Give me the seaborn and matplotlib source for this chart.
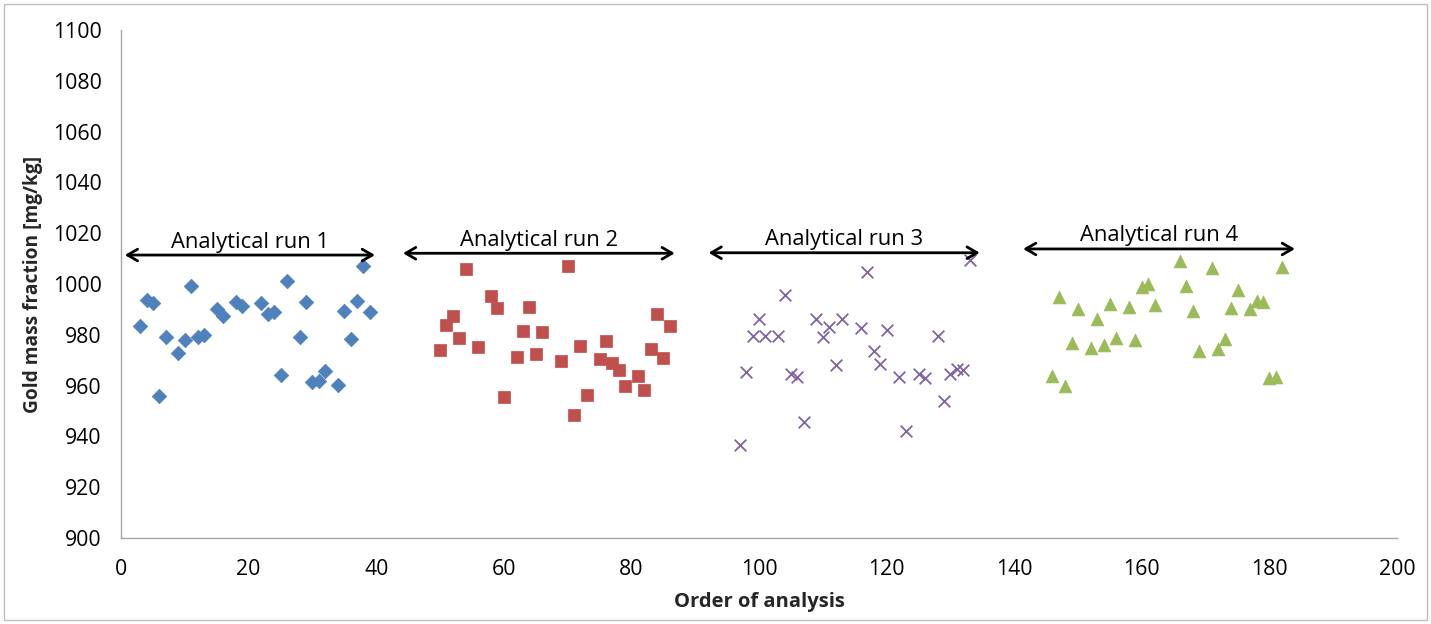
import matplotlib
matplotlib.use("Agg")
import matplotlib.pyplot as plt
from matplotlib.patches import Rectangle
import seaborn as sns
import pandas as pd

# ---- data ----
run1_x = [3, 4, 5, 6, 7, 9, 10, 11, 12, 13, 15, 16, 18, 19, 22, 23, 24, 25, 26, 28,
          29, 30, 31, 32, 34, 35, 36, 37, 38, 39]
run1_y = [983.3, 993.7, 992.6, 956.0, 979.3, 972.9, 977.9, 999.3, 979.3, 979.9, 990.3, 987.3,
          992.9, 991.3, 992.6, 988.1, 988.9, 964.0, 1001.2, 979.3, 993.0, 961.3, 961.9, 965.7,
          960.2, 989.5, 978.5, 993.3, 1007.2, 988.9]
run2_x = [50, 51, 52, 53, 54, 56, 58, 59, 60, 62, 63, 64, 65, 66, 69, 70, 71, 72, 73, 75,
          76, 77, 78, 79, 81, 82, 83, 84, 85, 86]
run2_y = [974.0, 984.0, 987.3, 978.7, 1006.0, 975.2, 995.2, 990.7, 955.6, 971.4, 981.4, 991.1,
          972.6, 981.0, 969.7, 1007.1, 948.3, 975.5, 956.2, 970.4, 977.6, 969.0, 966.1, 959.9,
          963.8, 958.3, 974.3, 988.2, 970.7, 983.5]
run3_x = [97, 98, 99, 100, 101, 103, 104, 105, 106, 107, 109, 110, 111, 112, 113, 116, 117,
          118, 119, 120, 122, 123, 125, 126, 128, 129, 130, 131, 132, 133]
run3_y = [936.6, 965.5, 979.5, 986.3, 979.5, 979.5, 995.6, 964.4, 963.4, 945.7, 986.3, 979.3,
          983.2, 968.2, 986.1, 982.8, 1004.6, 973.7, 968.7, 982.0, 963.5, 942.0, 964.6, 962.9,
          979.5, 954.1, 964.6, 966.7, 966.1, 1009.4]
run4_x = [146, 147, 148, 149, 150, 152, 153, 154, 155, 156, 158, 159, 160, 161, 162, 166, 167,
          168, 169, 171, 172, 173, 174, 175, 177, 178, 179, 180, 181, 182]
run4_y = [963.9, 994.9, 959.8, 976.8, 990.3, 974.9, 986.1, 975.9, 992.2, 978.7, 990.9, 977.8,
          998.9, 1000.1, 991.6, 1008.9, 999.2, 989.4, 973.6, 1006.3, 974.5, 978.5, 990.6, 997.6,
          990.0, 993.4, 993.0, 963.0, 963.5, 1006.8]

run_names = ["Analytical run 1", "Analytical run 2", "Analytical run 3", "Analytical run 4"]
arrow_start = [0.6, 44.2, 92.1, 141.4]
arrow_end = [39.8, 86.8, 134.6, 184.0]
arrow_y = [1011.4, 1012.1, 1012.3, 1013.8]

x_label = "Order of analysis"
y_label = "Gold mass fraction [mg/kg]"
x_ticks = [0, 20, 40, 60, 80, 100, 120, 140, 160, 180, 200]
y_ticks = [900, 920, 940, 960, 980, 1000, 1020, 1040, 1060, 1080, 1100]

colors = ["#4F81BD", "#C0504D", "#8064A2", "#9BBB59"]
markers = ["D", "s", "x", "^"]
sizes = [55, 75, 70, 85]

# ---- figure ----
sns.set_theme(style="white")
plt.rcParams["font.family"] = ["Open Sans", "DejaVu Sans"]

fig = plt.figure(figsize=(14.31, 6.24), dpi=100)
ax = fig.add_axes([121 / 1431, 1 - 538 / 624, (1397 - 121) / 1431, (538 - 30) / 624])

xs = [run1_x, run2_x, run3_x, run4_x]
ys = [run1_y, run2_y, run3_y, run4_y]
frames = []
for name, x, y in zip(run_names, xs, ys):
    frames.append(pd.DataFrame({"order": x, "gold": y, "run": name}))
df = pd.concat(frames, ignore_index=True)

for i, name in enumerate(run_names):
    sub = df[df["run"] == name]
    kw = dict(color=colors[i], marker=markers[i], s=sizes[i])
    if markers[i] == "x":
        kw["linewidth"] = 1.3
    else:
        kw["edgecolor"] = colors[i]
        kw["linewidth"] = 0.5
    sns.scatterplot(data=sub, x="order", y="gold", ax=ax, legend=False, zorder=3, **kw)

for i, name in enumerate(run_names):
    ax.annotate("", xy=(arrow_end[i], arrow_y[i]), xytext=(arrow_start[i], arrow_y[i]),
                arrowprops=dict(arrowstyle="<->,head_length=0.6,head_width=0.35",
                                color="black", lw=2.0, shrinkA=0, shrinkB=0))
    ax.text((arrow_start[i] + arrow_end[i]) / 2, arrow_y[i] + 1.0, name,
            ha="center", va="bottom", fontsize=15.8, color="black")

ax.set_xlim(0, 200)
ax.set_ylim(900, 1100)
ax.set_xticks(x_ticks)
ax.set_yticks(y_ticks)
ax.tick_params(axis="both", which="both", direction="out", length=5, width=1,
               color="#A6A6A6", labelsize=15.3, labelcolor="black")
ax.tick_params(axis="x", pad=10)
ax.tick_params(axis="y", pad=9)
for side in ["top", "right"]:
    ax.spines[side].set_visible(False)
for side in ["left", "bottom"]:
    ax.spines[side].set_color("#A6A6A6")
    ax.spines[side].set_linewidth(1)

ax.set_xlabel(x_label, fontsize=14.5, fontweight="bold", labelpad=9)
ax.set_ylabel(y_label, fontsize=13.8, fontweight="bold", labelpad=7)

fig.add_artist(Rectangle((4 / 1431, 4 / 624), 1 - 8 / 1431, 1 - 8 / 624,
                         transform=fig.transFigure, fill=False,
                         edgecolor="#BFBFBF", linewidth=1))

fig.savefig("out.png", dpi=100)
